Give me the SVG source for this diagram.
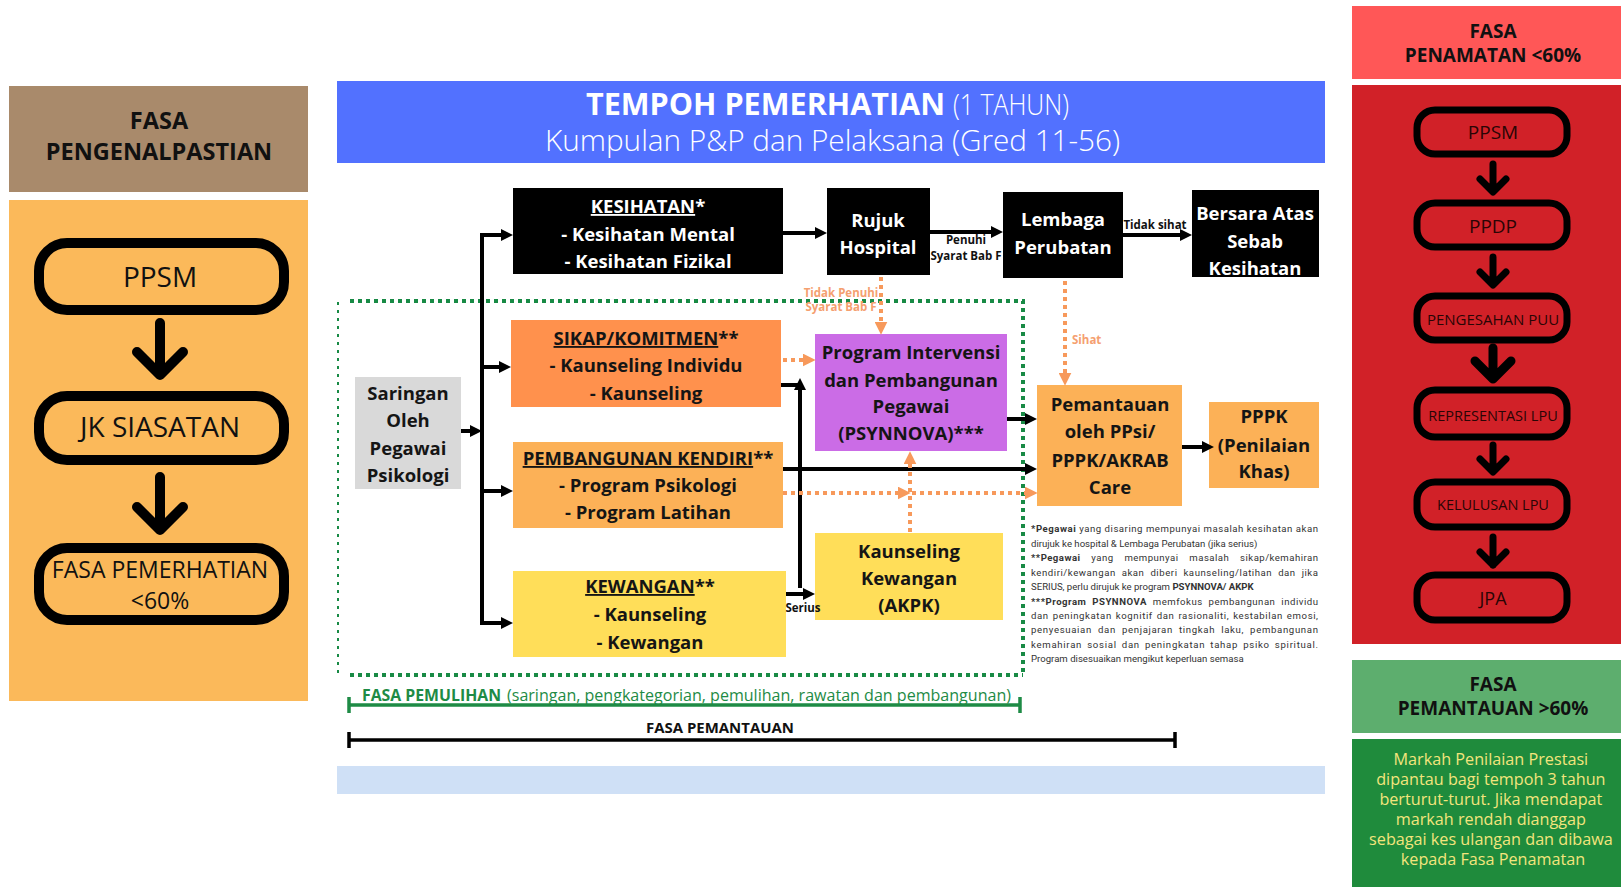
<svg xmlns="http://www.w3.org/2000/svg" width="1621" height="887" viewBox="0 0 1621 887">
  <style>
    .os { font-family: "Open Sans", "Liberation Sans", sans-serif; }
    .b { font-weight: 700; }
    .box { font-family: "Open Sans", "Liberation Sans", sans-serif; font-weight: 700; font-size: 18.5px; text-anchor: middle; fill: #151515; }
    .wt { fill: #ffffff; }
    .pill { fill: none; stroke: #000; stroke-width: 10; }
    .pill-s { fill: none; stroke: #000; stroke-width: 7; }
    .chev { fill: none; stroke: #000; stroke-linecap: round; stroke-linejoin: round; }
    .ln { fill: none; stroke: #000; stroke-width: 4; }
    .dot { fill: none; stroke: #F7995B; stroke-width: 4; stroke-dasharray: 4 4; }
    .grn { fill: none; stroke: #188A45; stroke-width: 4; stroke-dasharray: 4 4; }
    .lbl { font-family: "Open Sans", "Liberation Sans", sans-serif; font-weight: 700; font-size: 11.5px; text-anchor: middle; fill: #111; }
    .olbl { font-family: "Open Sans", "Liberation Sans", sans-serif; font-weight: 700; font-size: 11.5px; fill: #F5A070; }
    .note { font-family: Roboto, "Liberation Sans", sans-serif; font-size: 9.6px; fill: #333; }
    .u { text-decoration: underline; }
  </style>
  <defs>
    <marker id="ah" viewBox="0 0 12 12" refX="4" refY="6" markerWidth="12" markerHeight="12" markerUnits="userSpaceOnUse" orient="auto">
      <path d="M0,0 L12,6 L0,12 z" fill="#000"/>
    </marker>
    <marker id="oh" viewBox="0 0 12 12" refX="4" refY="6" markerWidth="13" markerHeight="13" markerUnits="userSpaceOnUse" orient="auto">
      <path d="M0,0 L12,6 L0,12 z" fill="#F7995B"/>
    </marker>
  </defs>

  <rect width="1621" height="887" fill="#ffffff"/>

  <!-- Left column: identification phase -->
  <g id="fasa-pengenalpastian">
    <rect x="9" y="86" width="299" height="106" fill="#A98A6B"/>
    <text class="os b" font-size="23.5" text-anchor="middle" fill="#111"><tspan x="159" y="129">FASA</tspan><tspan x="159" y="160">PENGENALPASTIAN</tspan></text>
    <rect x="9" y="200" width="299" height="501" fill="#FBB95A"/>
    <rect class="pill" x="39" y="243" width="245" height="67" rx="28"/>
    <text class="os" font-size="28" text-anchor="middle" fill="#111" x="160" y="287">PPSM</text>
    <path class="chev" stroke-width="10" d="M160,323 V374 M137,352 L160,375 L183,352"/>
    <rect class="pill" x="39" y="396" width="245" height="64" rx="28"/>
    <text class="os" font-size="28" text-anchor="middle" fill="#111" x="160" y="437">JK SIASATAN</text>
    <path class="chev" stroke-width="10" d="M160,477 V529 M137,507 L160,530 L183,507"/>
    <rect class="pill" x="39" y="548" width="245" height="72" rx="28"/>
    <text class="os" font-size="23" text-anchor="middle" fill="#111"><tspan x="160" y="578">FASA PEMERHATIAN</tspan><tspan x="160" y="609">&lt;60%</tspan></text>
  </g>

  <!-- Title band -->
  <g id="tajuk">
    <rect x="337" y="81" width="988" height="82" fill="#5271FF"/>
    <text class="os b" font-size="30" fill="#fff" x="586" y="115" textLength="359" lengthAdjust="spacingAndGlyphs">TEMPOH PEMERHATIAN</text>
    <text class="os" font-size="30" font-weight="300" fill="#fff" x="953" y="115" textLength="116" lengthAdjust="spacingAndGlyphs">(1 TAHUN)</text>
    <text class="os" font-size="29" font-weight="300" fill="#fff" x="545" y="151" textLength="575" lengthAdjust="spacingAndGlyphs">Kumpulan P&amp;P dan Pelaksana (Gred 11-56)</text>
  </g>
  <rect id="jalur-bawah" x="337" y="766" width="988" height="28" fill="#CFE0F6"/>

  <!-- Recovery phase frame -->
  <g id="bingkai-pemulihan">
    <path class="grn" d="M350,301 H1023 V675 M350,675 H1023"/>
    <path fill="none" stroke="#188A45" stroke-width="2" stroke-dasharray="3 5" d="M338,302 V675"/>
  </g>

  <!-- Nodes -->
  <g id="saringan">
    <rect x="355" y="377" width="106" height="112" fill="#D9D9D9"/>
    <text class="box" font-size="19.5"><tspan x="408" y="400">Saringan</tspan><tspan x="408" y="427">Oleh</tspan><tspan x="408" y="455">Pegawai</tspan><tspan x="408" y="482">Psikologi</tspan></text>
  </g>
  <g id="kesihatan">
    <rect x="513" y="188" width="270" height="86" fill="#000"/>
    <text class="box wt"><tspan x="648" y="213"><tspan class="u">KESIHATAN</tspan>*</tspan><tspan x="648" y="241">- Kesihatan Mental</tspan><tspan x="648" y="268">- Kesihatan Fizikal</tspan></text>
  </g>
  <g id="rujuk-hospital">
    <rect x="827" y="188" width="103" height="87" fill="#000"/>
    <text class="box wt"><tspan x="878" y="227">Rujuk</tspan><tspan x="878" y="254">Hospital</tspan></text>
  </g>
  <g id="lembaga-perubatan">
    <rect x="1003" y="192" width="120" height="86" fill="#000"/>
    <text class="box wt"><tspan x="1063" y="226">Lembaga</tspan><tspan x="1063" y="254">Perubatan</tspan></text>
  </g>
  <g id="bersara">
    <rect x="1192" y="190" width="127" height="87" fill="#000"/>
    <text class="box wt"><tspan x="1255" y="220">Bersara Atas</tspan><tspan x="1255" y="248">Sebab</tspan><tspan x="1255" y="275">Kesihatan</tspan></text>
  </g>
  <g id="sikap">
    <rect x="511" y="320" width="270" height="87" fill="#FF914D"/>
    <text class="box"><tspan x="646" y="345"><tspan class="u">SIKAP/KOMITMEN</tspan>**</tspan><tspan x="646" y="372">- Kaunseling Individu</tspan><tspan x="646" y="400">- Kaunseling</tspan></text>
  </g>
  <g id="pembangunan-kendiri">
    <rect x="513" y="442" width="270" height="86" fill="#FCB157"/>
    <text class="box"><tspan x="648" y="465"><tspan class="u">PEMBANGUNAN KENDIRI</tspan>**</tspan><tspan x="648" y="492">- Program Psikologi</tspan><tspan x="648" y="519">- Program Latihan</tspan></text>
  </g>
  <g id="kewangan">
    <rect x="513" y="571" width="273" height="86" fill="#FFDE59"/>
    <text class="box"><tspan x="650" y="593"><tspan class="u">KEWANGAN</tspan>**</tspan><tspan x="650" y="621">- Kaunseling</tspan><tspan x="650" y="649">- Kewangan</tspan></text>
  </g>
  <g id="psynnova">
    <rect x="815" y="334" width="192" height="117" fill="#CB6CE6"/>
    <text class="box" fill="#22102a"><tspan x="911" y="359">Program Intervensi</tspan><tspan x="911" y="387">dan Pembangunan</tspan><tspan x="911" y="413">Pegawai</tspan><tspan x="911" y="440">(PSYNNOVA)***</tspan></text>
  </g>
  <g id="akpk">
    <rect x="815" y="533" width="188" height="87" fill="#FFDE59"/>
    <text class="box"><tspan x="909" y="558">Kaunseling</tspan><tspan x="909" y="585">Kewangan</tspan><tspan x="909" y="612">(AKPK)</tspan></text>
  </g>
  <g id="pemantauan">
    <rect x="1037" y="385" width="145" height="121" fill="#FCB157"/>
    <text class="box"><tspan x="1110" y="411">Pemantauan</tspan><tspan x="1110" y="438">oleh PPsi/</tspan><tspan x="1110" y="467">PPPK/AKRAB</tspan><tspan x="1110" y="494">Care</tspan></text>
  </g>
  <g id="pppk">
    <rect x="1209" y="402" width="110" height="86" fill="#FCB157"/>
    <text class="box"><tspan x="1264" y="423">PPPK</tspan><tspan x="1264" y="452">(Penilaian</tspan><tspan x="1264" y="478">Khas)</tspan></text>
  </g>

  <!-- Connectors (drawn over the nodes so heads and labels stay visible) -->
  <g id="penyambung">
    <path class="ln" d="M482,235 V623"/>
    <path class="ln" marker-end="url(#ah)" d="M461,431 H474"/>
    <path class="ln" marker-end="url(#ah)" d="M480,235 H505"/>
    <path class="ln" marker-end="url(#ah)" d="M482,367 H503"/>
    <path class="ln" marker-end="url(#ah)" d="M482,491 H505"/>
    <path class="ln" marker-end="url(#ah)" d="M480,623 H505"/>
    <path class="ln" marker-end="url(#ah)" d="M783,233 H819"/>
    <path class="ln" marker-end="url(#ah)" d="M930,232 H995"/>
    <path class="ln" marker-end="url(#ah)" d="M1123,235 H1184"/>
    <path class="ln" d="M781,385 H800"/>
    <path class="ln" marker-end="url(#ah)" d="M800,588 V386"/>
    <path class="ln" marker-end="url(#ah)" d="M786,594 H807"/>
    <path class="ln" marker-end="url(#ah)" d="M1007,419 H1029"/>
    <path class="ln" marker-end="url(#ah)" d="M783,469 H1029"/>
    <path class="ln" marker-end="url(#ah)" d="M1182,447 H1206"/>

    <path class="dot" marker-end="url(#oh)" d="M881,277 V326"/>
    <path class="dot" marker-end="url(#oh)" d="M1065,281 V377"/>
    <path class="dot" marker-end="url(#oh)" d="M783,360 H807"/>
    <path class="dot" marker-end="url(#oh)" d="M783,493 H902"/>
    <path class="dot" marker-end="url(#oh)" d="M912,493 H1029"/>
    <path class="dot" marker-end="url(#oh)" d="M910,532 V460"/>

    <text class="lbl"><tspan x="966" y="244">Penuhi</tspan><tspan x="966" y="260">Syarat Bab F</tspan></text>
    <text class="lbl" x="1155" y="229">Tidak sihat</text>
    <text class="lbl" x="803" y="612">Serius</text>
    <text class="olbl" text-anchor="middle"><tspan x="841" y="297">Tidak Penuhi</tspan><tspan x="841" y="311">Syarat Bab F</tspan></text>
    <text class="olbl" x="1072" y="344">Sihat</text>
  </g>

  <!-- Footnotes -->
  <g id="nota">
    <text class="note" x="1031" y="532" textLength="287" lengthAdjust="spacing"><tspan font-weight="700">*Pegawai</tspan> yang disaring mempunyai masalah kesihatan akan</text>
    <text class="note" x="1031" y="547">dirujuk ke hospital &amp; Lembaga Perubatan (jika serius)</text>
    <text class="note" x="1031" y="561" word-spacing="8" textLength="287" lengthAdjust="spacing"><tspan font-weight="700">**Pegawai</tspan> yang mempunyai masalah sikap/kemahiran</text>
    <text class="note" x="1031" y="576" word-spacing="3" textLength="287" lengthAdjust="spacing">kendiri/kewangan akan diberi kaunseling/latihan dan jika</text>
    <text class="note" x="1031" y="590">SERIUS, perlu dirujuk ke program <tspan font-weight="700">PSYNNOVA/ AKPK</tspan></text>
    <text class="note" x="1031" y="605" word-spacing="3" textLength="287" lengthAdjust="spacing"><tspan font-weight="700">***Program PSYNNOVA</tspan> memfokus pembangunan individu</text>
    <text class="note" x="1031" y="619" word-spacing="1" textLength="287" lengthAdjust="spacing">dan  peningkatan kognitif dan rasionaliti, kestabilan emosi,</text>
    <text class="note" x="1031" y="633" word-spacing="3" textLength="287" lengthAdjust="spacing">penyesuaian dan penjajaran tingkah laku, pembangunan</text>
    <text class="note" x="1031" y="648" word-spacing="2" textLength="287" lengthAdjust="spacing">kemahiran sosial dan peningkatan tahap psiko spiritual.</text>
    <text class="note" x="1031" y="662">Program disesuaikan mengikut keperluan semasa</text>
  </g>

  <!-- Timelines -->
  <g id="garis-masa">
    <path fill="none" stroke="#1E8B45" stroke-width="3.5" d="M349,705 H1020 M349,697 V713 M1020,697 V713"/>
    <text class="os b" font-size="16" fill="#1E8B45" x="362" y="701" textLength="139" lengthAdjust="spacingAndGlyphs">FASA PEMULIHAN</text>
    <text class="os" font-size="16" fill="#1E8B45" x="507" y="701" textLength="504" lengthAdjust="spacingAndGlyphs">(saringan, pengkategorian, pemulihan, rawatan dan pembangunan)</text>
    <path fill="none" stroke="#000" stroke-width="3.5" d="M349,740 H1175 M349,732 V748 M1175,732 V748"/>
    <text class="os b" font-size="15" fill="#111" x="646" y="733" textLength="148" lengthAdjust="spacingAndGlyphs">FASA PEMANTAUAN</text>
  </g>

  <!-- Right column: termination phase -->
  <g id="fasa-penamatan">
    <rect x="1352" y="6" width="269" height="73" fill="#FF5757"/>
    <text class="os b" font-size="19" text-anchor="middle" fill="#111"><tspan x="1493" y="38">FASA</tspan><tspan x="1493" y="62">PENAMATAN &lt;60%</tspan></text>
    <rect x="1352" y="85" width="269" height="559" fill="#D12128"/>
    <g class="os" text-anchor="middle" fill="#2a0505">
      <rect class="pill-s" x="1417" y="110" width="150" height="44" rx="18"/>
      <text font-size="19" x="1493" y="139">PPSM</text>
      <path class="chev" stroke-width="7" d="M1493,164 V191 M1480,179 L1493,192 L1506,179"/>
      <rect class="pill-s" x="1417" y="203" width="150" height="44" rx="18"/>
      <text font-size="19" x="1493" y="233">PPDP</text>
      <path class="chev" stroke-width="7" d="M1493,257 V284 M1480,272 L1493,285 L1506,272"/>
      <rect class="pill-s" x="1417" y="296" width="150" height="44" rx="18"/>
      <text font-size="15" x="1493" y="325">PENGESAHAN PUU</text>
      <path class="chev" stroke-width="9" d="M1493,348 V377 M1475,361 L1493,379 L1511,361"/>
      <rect class="pill-s" x="1417" y="390" width="150" height="47" rx="18"/>
      <text font-size="14.5" x="1493" y="421">REPRESENTASI LPU</text>
      <path class="chev" stroke-width="7" d="M1493,445 V471 M1480,459 L1493,472 L1506,459"/>
      <rect class="pill-s" x="1417" y="482" width="150" height="45" rx="18"/>
      <text font-size="14.5" x="1493" y="510">KELULUSAN LPU</text>
      <path class="chev" stroke-width="7" d="M1493,537 V565 M1480,552 L1493,565 L1506,552"/>
      <rect class="pill-s" x="1417" y="575" width="150" height="45" rx="18"/>
      <text font-size="18" x="1493" y="605">JPA</text>
    </g>
  </g>

  <!-- Right column: monitoring phase -->
  <g id="fasa-pemantauan">
    <rect x="1352" y="660" width="269" height="73" fill="#5DAE6E"/>
    <text class="os b" font-size="19" text-anchor="middle" fill="#111"><tspan x="1493" y="691">FASA</tspan><tspan x="1493" y="715">PEMANTAUAN &gt;60%</tspan></text>
    <rect x="1352" y="739" width="269" height="148" fill="#1F8B3C"/>
    <text class="os" font-size="16.2" text-anchor="middle" fill="#F3E57C">
      <tspan x="1493" y="765">Markah Penilaian Prestasi</tspan>
      <tspan x="1493" y="785">dipantau bagi tempoh 3 tahun</tspan>
      <tspan x="1493" y="805">berturut-turut. Jika mendapat</tspan>
      <tspan x="1493" y="825">markah rendah dianggap</tspan>
      <tspan x="1493" y="845">sebagai kes ulangan dan dibawa</tspan>
      <tspan x="1493" y="865">kepada Fasa Penamatan</tspan>
    </text>
  </g>
</svg>
